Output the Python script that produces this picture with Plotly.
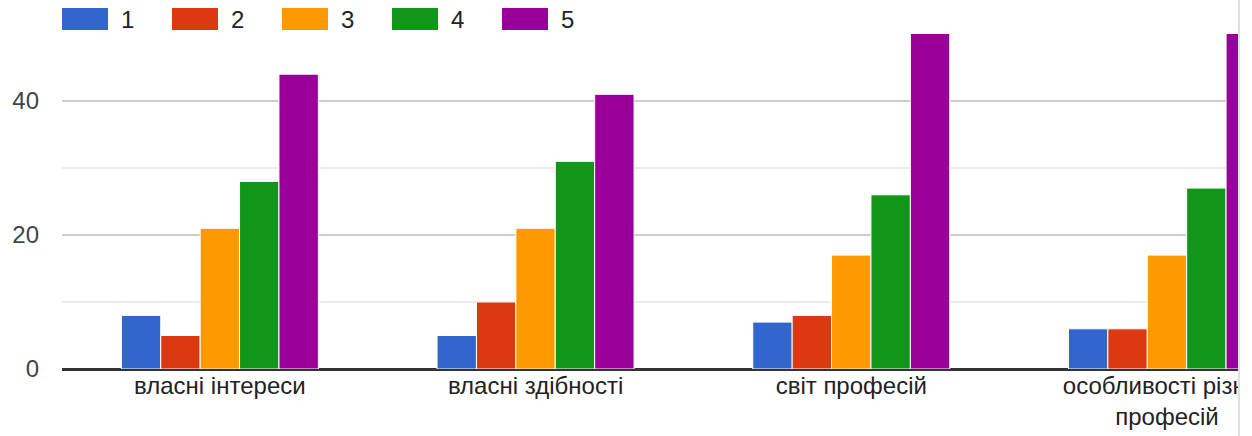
import plotly.graph_objects as go

categories = ["власні інтереси", "власні здібності", "світ професій", "особливості різних<br>професій"]
series_names = ["1", "2", "3", "4", "5"]
values_1 = [8, 5, 7, 6]
values_2 = [5, 10, 8, 6]
values_3 = [21, 21, 17, 17]
values_4 = [28, 31, 26, 27]
values_5 = [44, 41, 55, 54]
colors = ["#3366cc", "#dc3912", "#ff9900", "#109618", "#990099"]

series_values = [values_1, values_2, values_3, values_4, values_5]

W, H = 1252, 436
ML, MR, MT, MB = 62, 14, 34, 67
PW = W - ML - MR
PH = H - MT - MB

def px_x(px):
    return (px - ML) / PW

def px_y(py):
    return (H - MB - py) / PH

fig = go.Figure()
for name, vals, col in zip(series_names, series_values, colors):
    fig.add_trace(go.Bar(
        name=name, x=list(range(len(categories))), y=vals,
        marker=dict(color=col, line=dict(color="white", width=1)),
        showlegend=False,
    ))

shapes = []
annotations = []
# custom legend
for i, (name, col) in enumerate(zip(series_names, colors)):
    x0 = 62 + i * 110
    shapes.append(dict(type="rect", xref="paper", yref="paper",
                       x0=px_x(x0), x1=px_x(x0 + 46), y0=px_y(30), y1=px_y(8),
                       fillcolor=col, line=dict(width=0), layer="above"))
    annotations.append(dict(xref="paper", yref="paper", x=px_x(x0 + 57), y=px_y(19),
                            text=name, showarrow=False, xanchor="left", yanchor="middle",
                            font=dict(size=24, color="#222222",
                                      family="Liberation Sans, Arial, sans-serif")))

# right-side cut-off panel (the reference is cropped at this edge)
shapes.append(dict(type="rect", xref="paper", yref="paper",
                   x0=1.0, x1=1.05, y0=-0.4, y1=1.2,
                   fillcolor="white", line=dict(width=0), layer="above"))
shapes.append(dict(type="line", xref="paper", yref="paper",
                   x0=px_x(1239), x1=px_x(1239), y0=-0.4, y1=1.2,
                   line=dict(color="#e0e0e0", width=2), layer="above"))

fig.update_layout(
    width=W, height=H,
    margin=dict(l=ML, r=MR, t=MT, b=MB, autoexpand=False),
    paper_bgcolor="white", plot_bgcolor="white",
    barmode="group", bargap=0.376, bargroupgap=0,
    font=dict(family="Liberation Sans, Arial, sans-serif", size=24, color="#222222"),
    shapes=shapes, annotations=annotations,
    showlegend=False,
)
fig.update_xaxes(
    range=[-0.5, 3.225], tickmode="array",
    tickvals=list(range(len(categories))), ticktext=categories,
    showgrid=False, zeroline=False, showline=False, ticks="",
    tickfont=dict(size=24, color="#222222"),
    automargin=False, ticklabeloverflow="allow",
)
fig.update_yaxes(
    range=[0, 50], dtick=20, tick0=0,
    showgrid=True, gridcolor="#cccccc", gridwidth=2,
    minor=dict(dtick=10, showgrid=True, gridcolor="#ebebeb", gridwidth=2),
    zeroline=True, zerolinecolor="#333333", zerolinewidth=3,
    showline=False, ticks="", ticklabelstandoff=22,
    tickfont=dict(size=24, color="#444444"),
    automargin=False,
)

fig.write_html("out.html",
               config={"displayModeBar": False},
               post_script="document.body.style.margin='0';document.body.style.overflow='hidden';")
